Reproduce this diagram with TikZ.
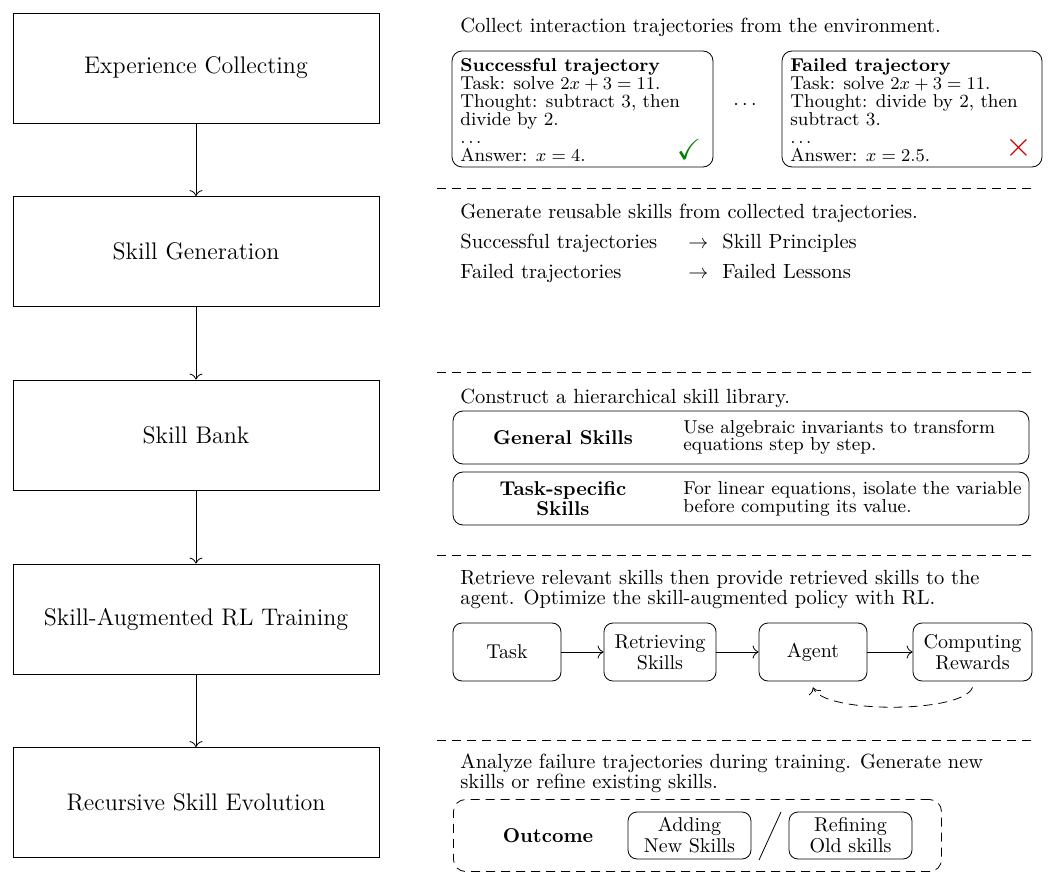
\documentclass[tikz,border=0pt]{standalone}
\usepackage{amssymb}
\usetikzlibrary{arrows.meta}
\newcommand{\spdots}{.\hspace{0.14em}.\hspace{0.14em}.}
\begin{document}
\begin{tikzpicture}[x=0.5pt,y=-0.5pt, >={Computer Modern Rightarrow[length=3pt,width=6.5pt]},
  lbox/.style={draw, minimum width=183pt, minimum height=55pt, inner sep=0pt, font=\fontsize{12}{14}\selectfont},
  desc/.style={anchor=base west, align=left, inner sep=0pt, font=\fontsize{10.25}{10}\selectfont},
  sepline/.style={dash pattern=on 4.5pt off 3pt},
  trajbox/.style={draw, rounded corners=5pt, minimum height=58pt, inner sep=0pt},
  trajtxt/.style={anchor=base west, align=left, inner sep=0pt, font=\fontsize{9.3}{9}\selectfont},
  skbox/.style={draw, rounded corners=5pt, minimum width=288pt, minimum height=26.5pt, inner sep=0pt},
  sklbl/.style={align=center, inner sep=0pt, font=\fontsize{10}{10}\selectfont\bfseries},
  skdesc/.style={anchor=base west, align=left, inner sep=0pt, font=\fontsize{9.35}{9}\selectfont},
  fbox/.style={draw, rounded corners=4.5pt, minimum width=54pt, minimum height=29pt, inner xsep=5.3pt, inner ysep=0pt, align=center, font=\fontsize{10}{10.5}\selectfont},
  obox/.style={draw, rounded corners=4.5pt, minimum width=61.5pt, minimum height=23.5pt, inner sep=0pt, align=center, font=\fontsize{10}{10.5}\selectfont}
]
\useasboundingbox (0,0) rectangle (1050,882);

% left column
\node[lbox] (b1) at (196,68) {Experience Collecting};
\node[lbox] (b2) at (196,251.5) {Skill Generation};
\node[lbox] (b3) at (196,435) {Skill Bank};
\node[lbox] (b4) at (196,619) {Skill-Augmented RL Training};
\node[lbox] (b5) at (196,802.5) {Recursive Skill Evolution};
\draw[->] (b1) -- (b2);
\draw[->] (b2) -- (b3);
\draw[->] (b3) -- (b4);
\draw[->] (b4) -- (b5);

% section 1
\node[desc] (d1) at (460,33) {Collect interaction trajectories from the environment.};
\node[trajbox, minimum width=130.5pt] (sb) at (582.5,109) {};
\node[trajtxt] (st) at (460,161.5) {\textbf{Successful trajectory}\\Task: solve $2x+3=11$.\\Thought: subtract 3, then\\divide by 2.\\\spdots\\Answer: $x=4$.};
\node[inner sep=0pt, text=green!50!black, font=\fontsize{14.5}{14.5}\selectfont] (ck) at (689,149) {$\checkmark$};
\node[inner sep=0pt, font=\fontsize{10}{10}\selectfont] (dots) at (745,105) {$\cdots$};
\node[trajbox, minimum width=130pt] (fb) at (912,109) {};
\node[trajtxt] (ft) at (790,161.5) {\textbf{Failed trajectory}\\Task: solve $2x+3=11$.\\Thought: divide by 2, then\\subtract 3.\\\spdots\\Answer: $x=2.5$.};
\node[inner sep=0pt, text=red!80!black, font=\fontsize{16}{16}\selectfont] (xm) at (1019,148) {$\times$};

\coordinate (s1a) at (437,188); \coordinate (s1b) at (1032,188);
\draw[sepline] (s1a) -- (s1b);

% section 2
\node[desc] (d2) at (460,219) {Generate reusable skills from collected trajectories.};
\node[desc] (g1) at (460,249) {Successful trajectories};
\node[desc] (g1a) at (688,249) {$\rightarrow$};
\node[desc] (g1b) at (722,249) {Skill Principles};
\node[desc] (g2) at (460,279) {Failed trajectories};
\node[desc] (g2a) at (688,279) {$\rightarrow$};
\node[desc] (g2b) at (722,279) {Failed Lessons};

\coordinate (s2a) at (437,372); \coordinate (s2b) at (1032,372);
\draw[sepline] (s2a) -- (s2b);

% section 3
\node[desc] (d3) at (460,403) {Construct a hierarchical skill library.};
\node[skbox] (gs) at (741,437.5) {};
\node[sklbl] (gsl) at (563,437.5) {General Skills};
\node[skdesc] (gsd) at (683,451) {Use algebraic invariants to transform\\equations step by step.};
\node[skbox] (ts) at (741,498.5) {};
\node[sklbl] (tsl) at (563,498.5) {Task-specific\\Skills};
\node[skdesc] (tsd) at (683,512) {For linear equations, isolate the variable\\before computing its value.};

\coordinate (s3a) at (437,555); \coordinate (s3b) at (1032,555);
\draw[sepline] (s3a) -- (s3b);

% section 4
\node[desc] (d4) at (460,604) {Retrieve relevant skills then provide retrieved skills to the\\agent. Optimize the skill-augmented policy with RL.};
\node[fbox] (t1) at (507,652) {Task};
\node[fbox] (t2) at (660,652) {Retrieving\\Skills};
\node[fbox] (t3) at (813,652) {Agent};
\node[fbox] (t4) at (972.5,652) {Computing\\Rewards};
\draw[->] (t1) -- (t2);
\draw[->] (t2) -- (t3);
\draw[->] (t3) -- (t4);
\draw[->, sepline] ([yshift=-3pt]t4.south) to[out=-110, in=-70, looseness=0.45] ([yshift=-3pt]t3.south);

\coordinate (s4a) at (437,740); \coordinate (s4b) at (1032,740);
\draw[sepline] (s4a) -- (s4b);

% section 5
\node[desc] (d5) at (460,788) {Analyze failure trajectories during training. Generate new\\skills or refine existing skills.};
\node[draw, sepline, rounded corners=6pt, minimum width=244pt, minimum height=36pt, inner sep=0pt] (ob) at (697.5,835.5) {};
\node[inner sep=0pt, font=\fontsize{10}{10}\selectfont\bfseries] (oc) at (548,836) {Outcome};
\node[obox] (an) at (689.5,835.5) {Adding\\New Skills};
\node[obox] (ro) at (850.5,835.5) {Refining\\Old skills};
\coordinate (sl1) at (759,860); \coordinate (sl2) at (781,812);
\draw (sl1) -- (sl2);
\end{tikzpicture}
\end{document}
